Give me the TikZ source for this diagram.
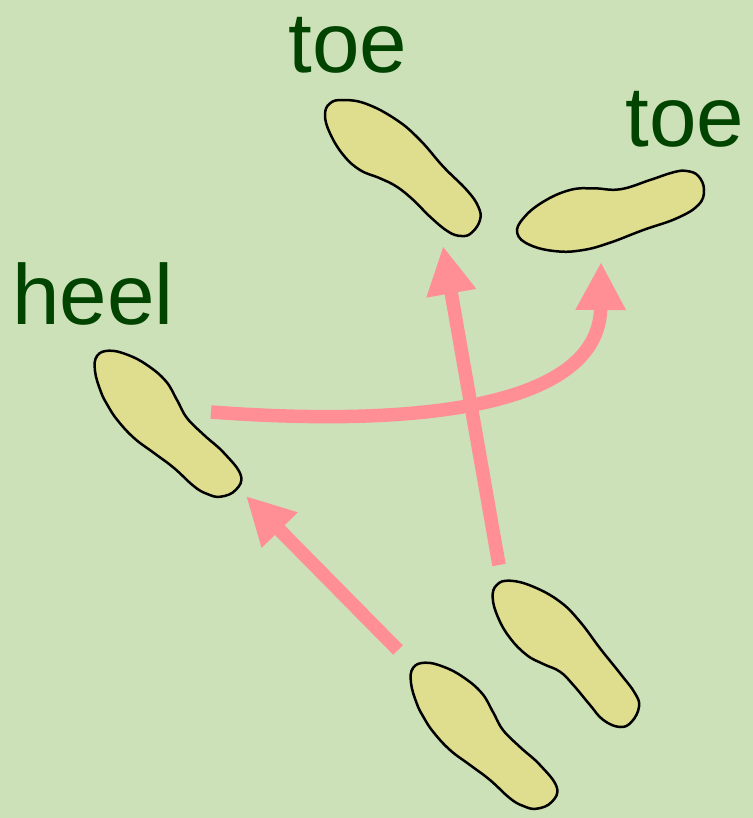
\documentclass[tikz,border=0pt]{standalone}
\usepackage{fontspec}
\setmainfont{Liberation Sans}
\usetikzlibrary{arrows.meta}
\definecolor{bgcol}{HTML}{CDE1B8}
\definecolor{solecol}{HTML}{DFDE8F}
\definecolor{stepcol}{HTML}{FF8F94}
\definecolor{wordcol}{HTML}{004400}
\begin{document}
\begin{tikzpicture}[
    x=0.02cm, y=-0.02cm,
    font=\fontsize{48.6}{48.6}\selectfont,
    sole/.style={draw=black, fill=solecol, line width=0.05cm},
    word/.style={text=wordcol, anchor=base west, inner sep=0pt},
    arr/.style={-{Triangle[length=0.96cm, width=0.94cm]}, line width=0.27cm, draw=stepcol},
    solefoot/.pic={
      \draw[sole] plot[smooth cycle, tension=0.7] coordinates {
        (425,662.7) (443.3,666.7) (463,677) (481.7,693) (493,712) (503,730)
        (520,747) (540,765) (556.7,787) (551.7,802) (536.7,808.7) (523.3,806)
        (510,798.3) (490,780) (470,765) (450,750) (433.3,732) (423.3,716.7)
        (416.7,703.3) (411,683) (413,668)};
    }
  ]

  % --- BACKGROUND ---
  \fill[bgcol] (0,0) rectangle (753,818);

  % --- FEET ---
  \pic at (0,0) {solefoot};
  \pic at (-316,-312) {solefoot};
  \draw[sole] plot[smooth cycle, tension=0.7] coordinates {
    (510,580.7) (533.3,586.7) (560,601.7) (580,621.7) (600,648.3) (620,673.3)
    (635,693.3) (639,706.7) (631.7,721.7) (620,727) (603.3,720) (590,705)
    (573.3,685) (560,671.7) (543.3,664) (526.7,655) (510,638) (498.3,618) (492.7,598) (496.7,585)};
  \draw[sole] plot[smooth cycle, tension=0.7] coordinates {
    (343.3,100) (366.7,104) (396.7,120) (420,140) (443.3,166.7) (466.7,190)
    (478.3,206.7) (480,220) (471.7,232.7) (461.7,236) (448.3,231.7) (430,216.7)
    (413.3,200) (396.7,186.7) (380,178.3) (360,170) (343.3,155) (330,133.3) (325,115) (330,103.3)};
  \draw[sole] plot[smooth cycle, tension=0.7] coordinates {
    (686.7,171) (698.3,176) (704,190) (698.3,205) (676.7,218.3) (643.3,230)
    (610,242.7) (583.3,250) (556.7,251.3) (530,245) (517.3,233.3) (523.3,218.3)
    (543.3,201.7) (570,190) (593.3,188.3) (620,189.3) (650,180) (673.3,172.3)};

  % --- LABELS ---
  \node[word] (toe_top) at (288,72) {toe};
  \node[word] (toe_right) at (625,146) {toe};
  \node[word] (heel_left) at (12,324) {heel};

  % --- STEPS ---
  \coordinate (back_tail) at (398,650);
  \coordinate (back_tip) at (246,496);
  \coordinate (front_tail) at (499,565);
  \coordinate (front_tip) at (443,246);
  \coordinate (swing_tail) at (211,412);
  \coordinate (swing_tip) at (601,262);

  \draw[arr] (back_tail) -- (back_tip);
  \draw[arr] (front_tail) -- (front_tip);
  \draw[arr] (swing_tail) .. controls (425,428) and (600,405) .. (swing_tip);

\end{tikzpicture}
\end{document}
